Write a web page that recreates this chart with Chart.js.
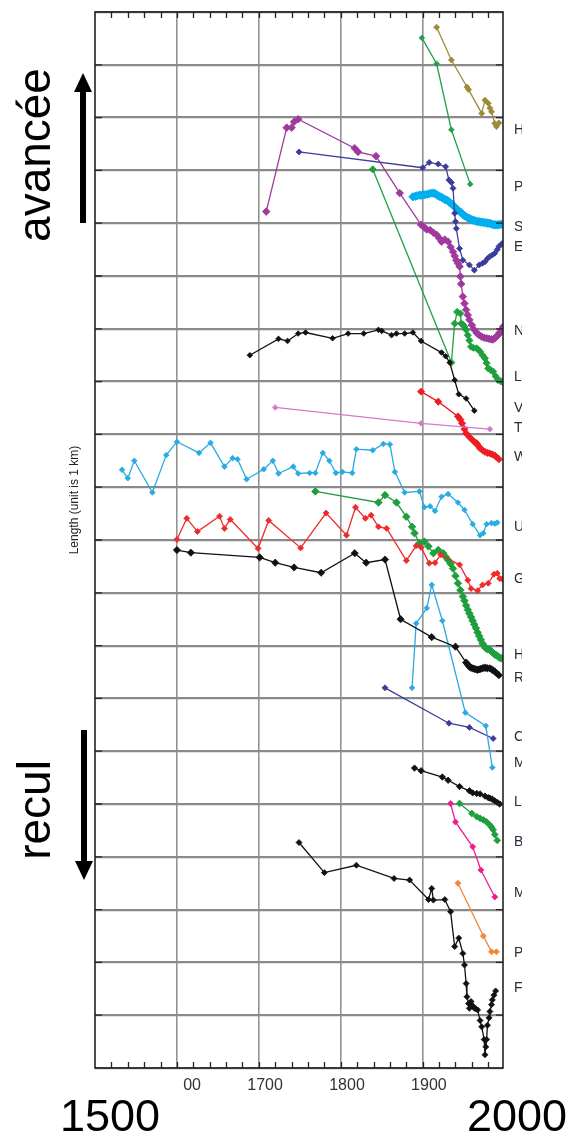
<!DOCTYPE html>
<html>
<head>
<meta charset="utf-8">
<script src="https://cdn.jsdelivr.net/npm/chart.js@4.4.1/dist/chart.umd.min.js"></script>
<style>
html, body { margin: 0; padding: 0; background: #fff; }
canvas { display: block; }
</style>
</head>
<body>
<canvas id="myChart" width="576" height="1133"></canvas>
<script>
// glacier length records, [year, length offset in km]
var oliveH = [[1917,19.71],[1935,19.09],[1954,18.58],[1956,18.53],[1972,18.08],[1976,18.33],[1980,18.27],[1982,18.18],[1984,18.11],[1988,17.89],[1990,17.83],[1993,17.90]];
var greenTop = [[1899,19.51],[1917,19.02],[1935,17.77],[1958,16.74]];
var purpleN = [[1709,16.22],[1734,17.81],[1740,17.81],[1743,17.92],[1748,17.97],[1817,17.42],[1821,17.35],[1843,17.27],[1872,16.57],[1898,15.97],[1902,15.92],[1905,15.88],[1909,15.87],[1913,15.82],[1917,15.78],[1920,15.72],[1923,15.65],[1927,15.69],[1931,15.65],[1934,15.55],[1937,15.46],[1939,15.38],[1941,15.30],[1943,15.24],[1945,15.18],[1946,14.99],[1947,14.85],[1949,14.61],[1951,14.48],[1953,14.36],[1955,14.26],[1957,14.17],[1960,14.07],[1963,13.98],[1966,13.92],[1969,13.88],[1972,13.85],[1975,13.83],[1978,13.82],[1981,13.81],[1984,13.80],[1986,13.80],[1988,13.82],[1990,13.85],[1992,13.88],[1994,13.93],[1996,13.98],[1998,14.04]];
var navyE = [[1749,17.35],[1900,17.05],[1908,17.15],[1919,17.12],[1928,17.07],[1932,16.82],[1935,16.77],[1937,16.66],[1939,16.19],[1940,16.03],[1941,15.90],[1945,15.52],[1949,15.30],[1957,15.21],[1963,15.11],[1969,15.21],[1973,15.24],[1976,15.27],[1979,15.33],[1982,15.37],[1985,15.40],[1988,15.43],[1991,15.50],[1993,15.56],[1996,15.60],[1998,15.63]];
var cyanS = [[1888,16.50],[1891,16.51],[1893,16.52],[1896,16.53],[1898,16.53],[1901,16.54],[1903,16.54],[1906,16.55],[1908,16.56],[1911,16.57],[1913,16.57],[1915,16.56],[1917,16.54],[1919,16.52],[1921,16.50],[1923,16.49],[1925,16.47],[1927,16.45],[1929,16.44],[1931,16.42],[1933,16.39],[1935,16.37],[1937,16.34],[1939,16.31],[1941,16.28],[1943,16.25],[1945,16.22],[1947,16.20],[1949,16.17],[1951,16.14],[1953,16.12],[1955,16.10],[1957,16.09],[1959,16.07],[1961,16.06],[1963,16.05],[1965,16.04],[1967,16.03],[1969,16.03],[1971,16.02],[1973,16.02],[1975,16.01],[1977,16.01],[1979,16.00],[1981,16.00],[1983,15.99],[1985,15.98],[1987,15.97],[1989,15.97],[1991,15.97],[1993,15.97],[1995,15.98],[1997,15.98]];
var greenL = [[1839,17.02],[1935,13.36],[1939,14.10],[1942,14.32],[1946,14.29],[1947,14.10],[1949,14.08],[1951,14.04],[1953,13.98],[1955,13.88],[1957,13.78],[1959,13.66],[1962,13.64],[1966,13.63],[1968,13.60],[1970,13.57],[1973,13.50],[1976,13.44],[1978,13.35],[1980,13.25],[1983,13.22],[1986,13.19],[1989,13.10],[1992,13.03],[1995,13.01],[1997,13.00]];
var blackV = [[1689,13.50],[1724,13.81],[1735,13.77],[1748,13.91],[1757,13.93],[1790,13.82],[1809,13.91],[1828,13.91],[1846,13.98],[1850,13.96],[1862,13.88],[1868,13.91],[1878,13.91],[1888,13.93],[1898,13.77],[1923,13.55],[1928,13.48],[1933,13.36],[1939,13.03],[1944,12.76],[1953,12.68],[1963,12.45]];
var redW = [[1898,12.81],[1919,12.62],[1943,12.34],[1946,12.28],[1948,12.21],[1951,12.10],[1953,12.02],[1957,11.95],[1961,11.89],[1963,11.86],[1966,11.83],[1968,11.78],[1970,11.74],[1973,11.70],[1976,11.67],[1979,11.65],[1982,11.64],[1985,11.62],[1988,11.60],[1990,11.57],[1993,11.53]];
var orchidT = [[1720,12.51],[1898,12.21],[1982,12.10]];
var blueU = [[1533,11.33],[1540,11.17],[1548,11.50],[1570,10.90],[1587,11.61],[1600,11.86],[1627,11.65],[1641,11.84],[1658,11.39],[1668,11.55],[1674,11.53],[1685,11.15],[1706,11.34],[1717,11.50],[1724,11.26],[1742,11.39],[1748,11.26],[1762,11.27],[1769,11.27],[1778,11.65],[1786,11.50],[1794,11.27],[1802,11.29],[1814,11.27],[1819,11.72],[1839,11.70],[1852,11.82],[1860,11.81],[1866,11.29],[1878,10.90],[1896,10.92],[1902,10.62],[1909,10.64],[1915,10.55],[1923,10.82],[1931,10.87],[1943,10.71],[1951,10.57],[1961,10.30],[1970,10.09],[1974,10.13],[1978,10.30],[1984,10.32],[1988,10.31],[1991,10.33]];
var greenH = [[1769,10.92],[1846,10.71],[1854,10.85],[1868,10.71],[1880,10.44],[1887,10.25],[1890,10.13],[1896,9.94],[1902,9.97],[1907,9.88],[1913,9.75],[1919,9.81],[1925,9.75],[1928,9.68],[1931,9.62],[1934,9.55],[1937,9.46],[1940,9.32],[1943,9.18],[1946,9.05],[1949,8.93],[1951,8.85],[1953,8.76],[1955,8.68],[1957,8.61],[1959,8.54],[1961,8.47],[1963,8.40],[1965,8.33],[1967,8.25],[1969,8.18],[1971,8.11],[1973,8.04],[1975,7.99],[1977,7.95],[1979,7.93],[1982,7.92],[1984,7.89],[1986,7.86],[1988,7.83],[1990,7.82],[1992,7.79],[1994,7.77],[1996,7.76]];
var redG = [[1600,10.01],[1612,10.41],[1625,10.16],[1652,10.45],[1658,10.22],[1665,10.39],[1699,9.84],[1712,10.37],[1751,9.85],[1782,10.51],[1807,10.09],[1818,10.62],[1830,10.41],[1837,10.47],[1846,10.25],[1856,10.22],[1880,9.61],[1892,9.89],[1898,9.86],[1908,9.56],[1915,9.57],[1922,9.72],[1945,9.53],[1955,9.24],[1959,9.08],[1967,9.04],[1973,9.15],[1980,9.18],[1987,9.35],[1991,9.37],[1994,9.27],[1997,9.26]];
var blackR = [[1600,9.81],[1617,9.76],[1701,9.67],[1720,9.57],[1743,9.48],[1776,9.38],[1817,9.75],[1831,9.57],[1854,9.63],[1873,8.50],[1911,8.16],[1940,7.98],[1953,7.68],[1955,7.64],[1957,7.60],[1959,7.58],[1961,7.57],[1963,7.56],[1965,7.55],[1967,7.54],[1969,7.55],[1971,7.56],[1973,7.57],[1975,7.58],[1977,7.58],[1979,7.57],[1982,7.57],[1984,7.55],[1986,7.53],[1988,7.51],[1990,7.48],[1993,7.44]];
var blueM = [[1887,7.20],[1892,8.42],[1905,8.71],[1911,9.15],[1924,8.47],[1952,6.73],[1977,6.48],[1985,5.69]];
var navyC = [[1854,7.20],[1932,6.53],[1957,6.45],[1986,6.24]];
var blackL = [[1890,5.68],[1898,5.63],[1924,5.51],[1931,5.45],[1945,5.33],[1957,5.25],[1961,5.21],[1966,5.20],[1970,5.19],[1976,5.15],[1980,5.12],[1982,5.11],[1985,5.09],[1988,5.06],[1991,5.03],[1994,5.00]];
var magentaM = [[1934,5.01],[1940,4.66],[1961,4.19],[1971,3.75],[1988,3.24]];
var greenB = [[1945,5.01],[1960,4.82],[1966,4.76],[1970,4.73],[1974,4.70],[1978,4.66],[1982,4.60],[1984,4.56],[1986,4.51],[1988,4.42],[1991,4.31]];
var orangeP = [[1943,3.50],[1974,2.50],[1984,2.20],[1990,2.20]];
var blackF = [[1749,4.27],[1780,3.70],[1819,3.84],[1865,3.59],[1884,3.56],[1907,3.19],[1911,3.40],[1913,3.18],[1927,3.19],[1934,2.96],[1939,2.30],[1944,2.46],[1949,2.17],[1951,1.95],[1953,1.60],[1954,1.35],[1956,1.22],[1957,1.13],[1959,1.26],[1961,1.18],[1963,1.13],[1965,1.12],[1967,1.10],[1970,0.90],[1972,0.78],[1975,0.54],[1976,0.25],[1977,0.40],[1978,0.54],[1979,0.81],[1981,0.95],[1982,1.07],[1984,1.20],[1985,1.29],[1987,1.38],[1989,1.46]];

// [data, colour, marker radius]
var seriesList = [
    [oliveH, '#9c8b37', 3], [greenTop, '#22a04b', 2.8], [orchidT, '#d67ac8', 2.8],
    [blueU, '#29abe2', 2.8], [redG, '#ee2a2a', 3], [blackR, '#111111', 3.6],
    [navyE, '#3c3c9c', 3], [purpleN, '#a0399e', 3.8], [cyanS, '#00aeef', 4.2],
    [blackV, '#111111', 2.8], [greenL, '#1fa03c', 3.6], [redW, '#ee1c24', 3.6],
    [greenH, '#1f9e3e', 3.8], [blueM, '#29abe2', 2.8], [navyC, '#3c3c9c', 3],
    [blackL, '#111111', 3.2], [magentaM, '#ec1e8c', 3], [greenB, '#1f9e3e', 3.4],
    [orangeP, '#f2873a', 3], [blackF, '#111111', 3]
];

// right hand name labels (cut off in the source) and their heights
var endLabels = ['H','P','S','E','N','L','V','T','W','U','G','H','R','C','M','L','B','M','P','F'];
var endLabelPos = [17.77,16.69,15.93,15.55,13.96,13.09,12.50,12.12,11.57,10.25,9.26,7.82,7.39,6.27,5.78,5.04,4.28,3.31,2.18,1.52];

var gridYears = [1600, 1700, 1800, 1900];
var yearLabels = ['00', '1700', '1800', '1900'];

var decor = {
    id: 'decor',
    afterDraw: function(chart) {
        var ctx = chart.ctx, a = chart.chartArea;
        var x = chart.scales.x, y = chart.scales.y;
        ctx.save();

        // frame
        ctx.strokeStyle = '#222';
        ctx.lineWidth = 1.6;
        ctx.strokeRect(a.left, a.top, a.right - a.left, a.bottom - a.top);

        // inner ticks
        ctx.lineWidth = 1.3;
        ctx.beginPath();
        for (var yr = 1520; yr < 1998; yr += 20) {
            var px = Math.round(x.getPixelForValue(yr)) + 0.5;
            ctx.moveTo(px, a.bottom); ctx.lineTo(px, a.bottom - 6);
            ctx.moveTo(px, a.top); ctx.lineTo(px, a.top + 6);
        }
        for (var v = 1; v < 20; v++) {
            var py = y.getPixelForValue(v);
            ctx.moveTo(a.left, py); ctx.lineTo(a.left + 7, py);
            ctx.moveTo(a.right - 7, py); ctx.lineTo(a.right, py);
        }
        ctx.stroke();

        // year tick labels
        ctx.fillStyle = '#333';
        ctx.font = '16px "Liberation Sans", Arial, sans-serif';
        ctx.textAlign = 'right';
        ctx.textBaseline = 'middle';
        gridYears.forEach(function(yr, i) {
            ctx.fillText(yearLabels[i], x.getPixelForValue(yr) + 24, a.bottom + 18);
        });

        // cut-off names on the right
        ctx.save();
        ctx.beginPath();
        ctx.rect(a.right + 1, 0, 521 - a.right, chart.height);
        ctx.clip();
        ctx.fillStyle = '#2a2a38';
        ctx.font = '14px "Liberation Sans", Arial, sans-serif';
        ctx.textAlign = 'left';
        endLabels.forEach(function(t, i) {
            ctx.fillText(t, 514, y.getPixelForValue(endLabelPos[i]));
        });
        ctx.restore();

        // big year labels
        ctx.fillStyle = '#000';
        ctx.font = '45px "Liberation Sans", Arial, sans-serif';
        ctx.textAlign = 'center';
        ctx.textBaseline = 'alphabetic';
        ctx.fillText('1500', 110, 1131);
        ctx.fillText('2000', 517, 1131);

        // rotated texts
        function vtext(t, cx, cy, font) {
            ctx.save();
            ctx.translate(cx, cy);
            ctx.rotate(-Math.PI / 2);
            ctx.font = font;
            ctx.textAlign = 'center';
            ctx.fillText(t, 0, 0);
            ctx.restore();
        }
        vtext('avancée', 50, 155, '46px "Liberation Sans", Arial, sans-serif');
        vtext('recul', 50, 810, '46px "Liberation Sans", Arial, sans-serif');
        ctx.fillStyle = '#222';
        vtext('Length (unit is 1 km)', 78, 500, '12px "Liberation Sans", Arial, sans-serif');

        // arrows
        ctx.fillStyle = '#000';
        ctx.fillRect(80, 90, 6, 133);
        ctx.beginPath();
        ctx.moveTo(83, 73); ctx.lineTo(92, 92); ctx.lineTo(74, 92); ctx.closePath();
        ctx.fill();
        ctx.fillRect(81, 730, 6, 133);
        ctx.beginPath();
        ctx.moveTo(84, 880); ctx.lineTo(93, 861); ctx.lineTo(75, 861); ctx.closePath();
        ctx.fill();

        ctx.restore();
    }
};

var ctx = document.getElementById('myChart').getContext('2d');
var myChart = new Chart(ctx, {
    type: 'line',
    data: {
        datasets: seriesList.map(function(s) {
            return {
                data: s[0].map(function(p) { return { x: p[0], y: p[1] }; }),
                borderColor: s[1],
                backgroundColor: s[1],
                borderWidth: 1.3,
                pointStyle: 'rectRot',
                pointRadius: s[2],
                pointBorderWidth: 0.8,
                pointHoverRadius: 0,
                tension: 0
            };
        })
    },
    options: {
        responsive: false,
        animation: false,
        devicePixelRatio: 1,
        layout: { padding: { left: 95, right: 73, top: 12, bottom: 65 } },
        plugins: { legend: { display: false }, tooltip: { enabled: false } },
        scales: {
            x: {
                type: 'linear',
                min: 1500,
                max: 1998,
                afterBuildTicks: function(s) {
                    s.ticks = gridYears.map(function(v) { return { value: v }; });
                },
                ticks: { display: false },
                grid: { color: '#939393', lineWidth: 1.6, drawTicks: false },
                border: { display: false }
            },
            y: {
                min: 0,
                max: 20,
                ticks: { display: false, stepSize: 1 },
                grid: { color: '#8a8a8a', lineWidth: 2.2, drawTicks: false },
                border: { display: false }
            }
        }
    },
    plugins: [decor]
});
</script>
</body>
</html>
